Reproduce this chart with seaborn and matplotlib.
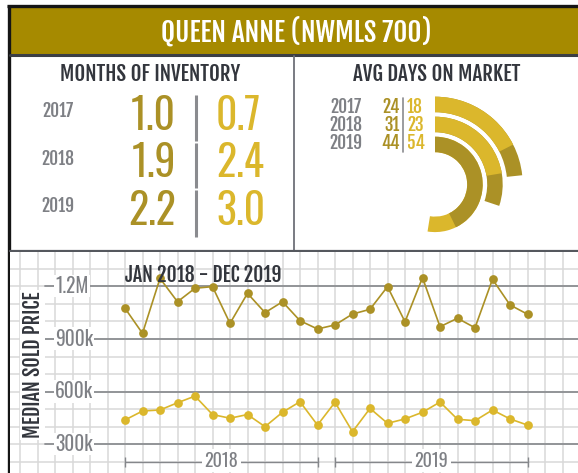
import matplotlib
matplotlib.use("Agg")
import matplotlib.pyplot as plt
import seaborn as sns
import pandas as pd
import numpy as np

# ---- data ----
years = ["2017", "2018", "2019"]
inventory_house = [1.0, 1.9, 2.2]
inventory_condo = [0.7, 2.4, 3.0]
days_house = [24, 31, 44]
days_condo = [18, 23, 54]

# median sold price (k$), Jan 2018 .. Dec 2019
price_house = [1075, 932, 1245, 1112, 1189, 1198, 989, 1160, 1050, 1112, 1004, 957,
               980, 1042, 1069, 1198, 998, 1249, 970, 1018, 964, 1240, 1094, 1041]
price_condo = [439, 490, 496, 537, 575, 470, 449, 470, 401, 483, 543, 410,
               540, 372, 505, 420, 445, 483, 541, 443, 435, 496, 445, 410]
ytick_vals = [300, 600, 900, 1200]
ytick_labels = ["300k", "600k", "900k", "1.2M"]

DARK = "#AB9126"
BRIGHT = "#DBB72C"
GOLD_HEAD = "#A68A00"
INK = "#33363D"
GRAY = "#7E8085"
FONT = "Oswald"
BOLD = ["Fjalla One", "Oswald", "DejaVu Sans"]

sns.set_style("white")
plt.rcParams["font.family"] = [FONT, "DejaVu Sans"]

W, H = 578, 473
fig = plt.figure(figsize=(W / 100, H / 100), dpi=100)

# background / frame axes in pixel units
bg = fig.add_axes([0, 0, 1, 1])
bg.set_xlim(0, W)
bg.set_ylim(H, 0)
bg.set_axis_off()

bg.add_patch(plt.Rectangle((10, 8), W - 10, 46, color=GOLD_HEAD, lw=0))
bg.plot([8.5, 8.5], [5, H], color="#151515", lw=2.4, solid_capstyle="butt")
bg.plot([7, W], [6.5, 6.5], color="#151515", lw=2.4, solid_capstyle="butt")
bg.plot([10, W], [55.5, 55.5], color="#3B3E45", lw=2.2)
bg.plot([294, 294], [56, 251], color="#6E7178", lw=1.3)
bg.plot([10, W], [251, 251], color="#55585E", lw=1.6)
bg.text(296, 42, "QUEEN ANNE (NWMLS 700)", color="white", fontsize=19.5,
        family=BOLD, ha="center", va="baseline")

# months of inventory
bg.text(150, 81, "MONTHS OF INVENTORY", color=INK, fontsize=15, family=BOLD,
        ha="center", va="baseline")
inv_base = [130, 177, 225]
year_base = [117, 165, 212]
for i, yr in enumerate(years):
    bg.text(58, year_base[i], yr, color=GRAY, fontsize=12.5, family=BOLD,
            ha="center", va="baseline")
    bg.text(176, inv_base[i], f"{inventory_house[i]:.1f}", color=DARK,
            fontsize=30, ha="right", va="baseline")
    bg.text(216, inv_base[i], f"{inventory_condo[i]:.1f}", color=BRIGHT,
            fontsize=30, ha="left", va="baseline")
for y0, y1 in [(95, 141), (143, 188), (190, 237)]:
    bg.plot([196, 196], [y0, y1], color="#8A8B8F", lw=2.2, solid_capstyle="butt")

# avg days on market
bg.text(437, 81, "AVG DAYS ON MARKET", color=INK, fontsize=15, family=BOLD,
        ha="center", va="baseline")
day_base = [112.5, 130.5, 148.5]
for i, yr in enumerate(years):
    bg.text(346, day_base[i], yr, color=GRAY, fontsize=12.5, family=BOLD,
            ha="center", va="baseline")
    bg.text(400, day_base[i], str(days_house[i]), color=DARK, fontsize=12.5,
            family=BOLD, ha="right", va="baseline")
    bg.text(407, day_base[i], str(days_condo[i]), color=BRIGHT, fontsize=12.5,
            family=BOLD, ha="left", va="baseline")
bg.plot([403, 403], [98, 152], color="#8A8B8F", lw=1.2)

# arcs (3.5 degrees per day, clockwise from 12 o'clock)
cx, cy, rmax = 435, 184.4, 90
pax = fig.add_axes([(cx - rmax) / W, (H - cy - rmax) / H, 2 * rmax / W, 2 * rmax / H],
                   projection="polar")
pax.set_theta_zero_location("N")
pax.set_theta_direction(-1)
pax.set_ylim(0, rmax)
pax.set_axis_off()
deg_per_day = 3.5
ring_bottom = [72.2, 52.2, 32.2]
for i in range(3):
    pairs = sorted([(days_house[i], DARK), (days_condo[i], BRIGHT)], reverse=True)
    for z, (d, c) in enumerate(pairs):
        pax.bar(0, 15.5, width=np.deg2rad(d * deg_per_day), bottom=ring_bottom[i],
                align="edge", color=c, lw=0, zorder=2 + z)

# price chart
ax = fig.add_axes([10 / W, 0, (W - 10) / W, (H - 252) / H])
df = pd.DataFrame({
    "month": list(range(24)) * 2,
    "price": price_house + price_condo,
    "type": ["house"] * 24 + ["condo"] * 24,
})
px_x = 17.5
px_y = 52.7 / 300
ax.set_xlim(-115 / px_x, (W - 125) / px_x)
ax.set_ylim(1200 - (H - 286.3) / px_y, 1200 + (286.3 - 252) / px_y)
ax.set_xticks(np.arange(-6, 26))
ax.set_yticks(np.arange(200, 1400, 100))
ax.grid(True, color="#D9D9D9", lw=1.1)
ax.tick_params(length=0, labelbottom=False, labelleft=False)
for s in ax.spines.values():
    s.set_visible(False)
ax.set_axisbelow(True)

for v, lab in zip(ytick_vals, ytick_labels):
    ax.axhline(v, xmin=(45 - 10) / (W - 10), color="#8C8E92", lw=1.3, zorder=1.5)
    ax.text(-4.0, v - 38, lab, color=GRAY, fontsize=14, ha="left", va="baseline",
            zorder=2, bbox=dict(facecolor="white", edgecolor="none", pad=1))

sns.lineplot(data=df, x="month", y="price", hue="type",
             palette={"house": DARK, "condo": BRIGHT}, marker="o", markersize=6.3,
             markeredgewidth=0, linewidth=1.2, legend=False, ax=ax, zorder=4)
ax.set_xlabel("")
ax.set_ylabel("")

ax.text(0, 1226, "JAN 2018 - DEC 2019", color=INK, fontsize=14.2, family=BOLD,
        ha="left", va="baseline", zorder=5)

for start, label in [(0, "2018"), (12, "2019")]:
    ax.plot([start, start + 11], [200, 200], color="#85878B", lw=1, marker="|",
            markersize=7, zorder=3)
    ax.text(start + 5.5, 173, label, color=GRAY, fontsize=13, ha="center",
            va="baseline", zorder=4,
            bbox=dict(facecolor="white", edgecolor="none", pad=2))

fig.text(39.5 / W, 1 - 365 / H, "MEDIAN SOLD PRICE", color=INK, fontsize=14.5,
         family=BOLD, rotation=90, rotation_mode="anchor", ha="center",
         va="baseline", bbox=dict(facecolor="white", edgecolor="none", pad=1))

fig.savefig("out.png", dpi=100)
